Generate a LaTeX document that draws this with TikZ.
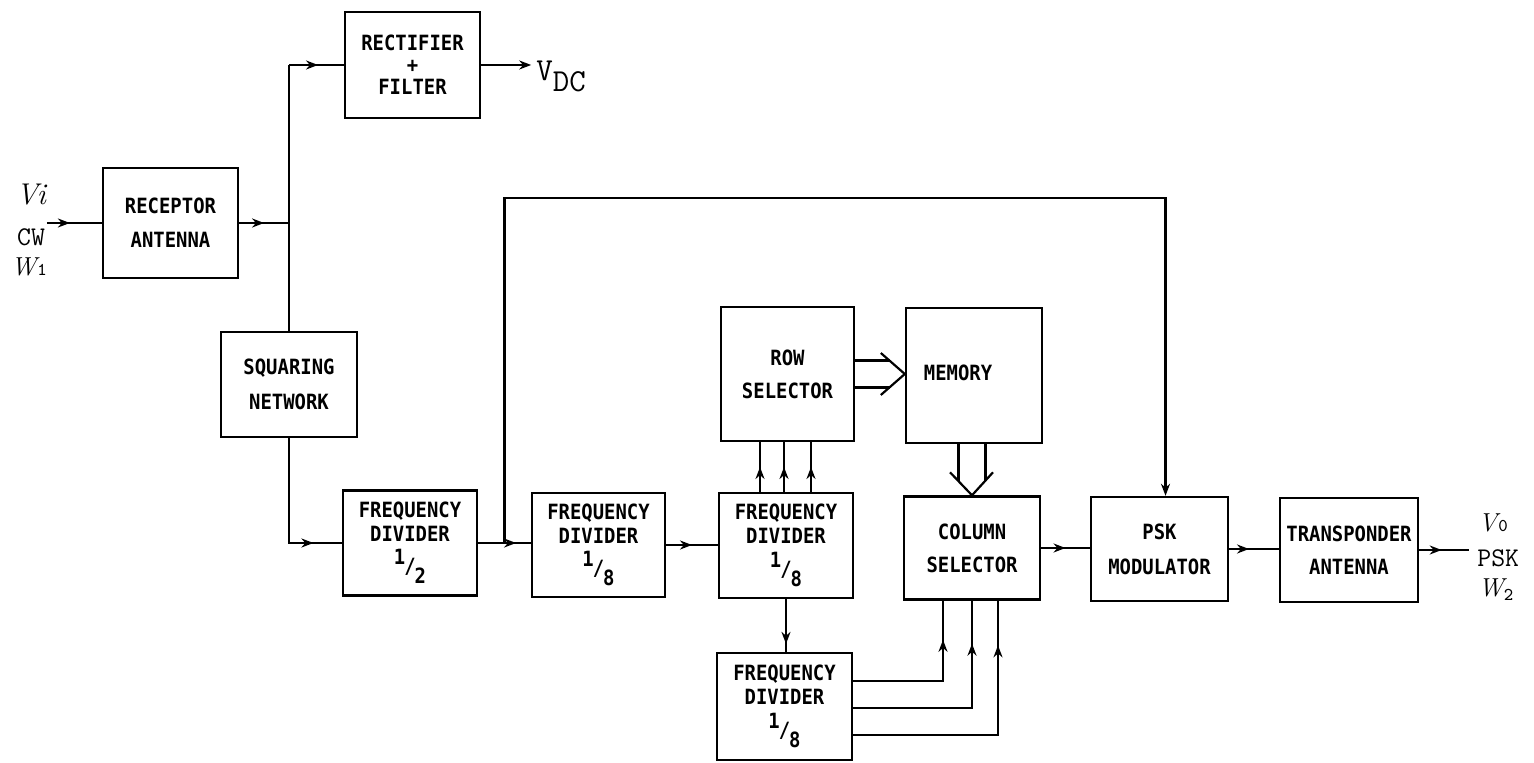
\documentclass[tikz,border=0pt]{standalone}
\usepackage{fontspec}
\usepackage{tikz}
\usetikzlibrary{arrows.meta,calc,decorations.markings}
\newfontfamily\lettering{DejaVu Sans Mono}[FakeStretch=0.9]
\newcommand\typew{\ttfamily\upshape\fontsize{13.5}{15}\selectfont\addfontfeature{FakeBold=1.5}}
\newcommand\smalldig[1]{{\ttfamily\upshape\fontsize{9}{9}\selectfont\addfontfeature{FakeBold=1}#1}}
\newcommand\frc[2]{\raisebox{4.5pt}{#1}\kern-0.5pt/\kern-0.5pt\raisebox{-5pt}{#2}}
\tikzset{
  blk/.style={draw, line width=1.2pt, align=center, inner sep=2pt, font=\lettering\bfseries\fontsize{10.5}{12}\selectfont},
  wire/.style={line width=1.1pt},
  arrow/.style={wire, -{Stealth[length=6pt,width=4.5pt]}},
  midarrow/.style={wire, postaction={decorate}, decoration={markings, mark=at position #1 with {\arrow{Stealth[length=6pt,width=4.5pt]}}}},
  midarrow/.default=0.5,
  sig/.style={font=\typew, inner sep=0pt},
  hand/.style={font=\itshape\fontsize{13}{14}\selectfont, inner sep=0pt}
}
\begin{document}
\begin{tikzpicture}[x=0.5pt, y=-0.5pt]
\useasboundingbox (0,0) rectangle (1534,763);
% blocks
\node[blk, minimum width=67.5pt, minimum height=55pt] (rec) at (170.5,223) {RECEPTOR\\[5pt]ANTENNA};
\node[blk, minimum width=67.5pt, minimum height=53pt] (rect) at (412.5,65) {RECTIFIER\\[-1pt]+\\[-1pt]FILTER};
\node[blk, minimum width=68pt, minimum height=52.5pt] (sq) at (289,384.5) {SQUARING\\[5.5pt]NETWORK};
\node[blk, minimum width=67pt, minimum height=52.5pt] (fd2) at (410,543) {FREQUENCY\\DIVIDER\\[3pt]\frc{1}{2}};
\node[blk, minimum width=66.5pt, minimum height=52pt] (fd8a) at (598.5,545) {FREQUENCY\\DIVIDER\\[3pt]\frc{1}{8}};
\node[blk, minimum width=67pt, minimum height=52.5pt] (fd8b) at (786,545.5) {FREQUENCY\\DIVIDER\\[3pt]\frc{1}{8}};
\node[blk, minimum width=67.5pt, minimum height=53.5pt] (fd8c) at (784.5,706.5) {FREQUENCY\\DIVIDER\\[3pt]\frc{1}{8}};
\node[blk, minimum width=66.5pt, minimum height=67pt] (row) at (787.5,374) {ROW\\[4.5pt]SELECTOR};
\node[blk, minimum width=68pt, minimum height=67.5pt] (mem) at (974,375.5) {\raisebox{2.75pt}{\kern-16pt MEMORY}};
\node[blk, minimum width=68pt, minimum height=51.5pt] (col) at (972,548) {COLUMN\\[4.5pt]SELECTOR};
\node[blk, minimum width=68.5pt, minimum height=52pt] (psk) at (1159.5,549) {PSK\\[5.5pt]MODULATOR};
\node[blk, minimum width=69pt, minimum height=52pt] (trans) at (1349,550) {TRANSPONDER\\[4.5pt]ANTENNA};

% input side
\coordinate (vin) at ($(rec.west)+(-55,0)$);
\draw[midarrow=0.42] (vin) -- (rec.west);
\node[hand, font=\itshape\fontsize{15}{16}\selectfont] (vi) at (31,195) {Vi};
\node[sig] (cw) at (31,237) {CW};
\node[hand] (w1) at (29,267) {W\kern0.5pt\smalldig{1}};

\coordinate (split) at (rec.east -| sq.north);
\draw[midarrow] (rec.east) -- (split);
\draw[wire] (sq.north) -- (sq.north |- rect.west) coordinate (top);
\draw[midarrow=0.53] (top) -- (rect.west);
\coordinate (vdc) at ($(rect.east)+(50,0)$);
\draw[arrow] (rect.east) -- (vdc);
\node[sig, font=\typew\fontsize{16}{18}\selectfont, anchor=base west] (vdclbl) at (536,81) {V\raisebox{-5.5pt}{DC}};

% divider chain
\draw[midarrow=0.82] (sq.south) |- (fd2.west);
\draw[midarrow=0.72] (fd2.east) -- (fd2.east -| fd8a.west);
\coordinate (fb) at ($(fd2.east)!0.5!(fd2.east -| fd8a.west)$);
\draw[arrow] (fb) -- ++(0,-345) -| ([xshift=3pt]psk.north);
\draw[midarrow] (fd8a.east) -- (fd8a.east -| fd8b.west);
\foreach \dx in {-26,-2,25}
  \draw[midarrow] ($(fd8b.north)+(\dx,0)$) coordinate (p) -- (p |- row.south);
\draw[midarrow=0.85] (fd8b.south) -- (fd8b.south |- fd8c.north);
\foreach \dy/\dx/\p in {-25.5/-29/0.77, 1.5/0/0.81, 28.5/26/0.84}
  \draw[midarrow=\p] ($(fd8c.east)+(0,\dy)$) -| ($(col.south)+(\dx,0)$);

% buses
\coordinate (busr) at (row.east -| mem.west);
\foreach \dy in {-13.5,13.5}
  \draw[wire] ($(row.east)+(0,\dy)$) -- ($(busr)+(-15,\dy)$);
\draw[wire, line join=miter] ($(busr)+(-24,-21)$) -- (busr) -- ($(busr)+(-24,21)$);
\foreach \dx in {-13.5,13.5}
  \draw[wire] ($(col.north |- mem.south)+(\dx,0)$) -- ($(col.north)+(\dx,-14)$);
\draw[wire, line join=miter] ($(col.north)+(-22,-23)$) -- (col.north) -- ($(col.north)+(21,-23)$);

% output side
\draw[midarrow] (col.east) -- (col.east -| psk.west);
\draw[midarrow=0.4] (psk.east) -- (psk.east -| trans.west);
\coordinate (vout) at ($(trans.east)+(50,0)$);
\draw[midarrow=0.45] (trans.east) -- (vout);
\node[hand, anchor=west] (v0) at (1478,523) {V\kern0.5pt\smalldig{0}};
\node[sig, anchor=west] (psklbl) at (1477,558) {PSK};
\node[hand, anchor=west] (w2) at (1478,590) {W\raisebox{-2pt}{\smalldig{2}}};
\end{tikzpicture}
\end{document}
